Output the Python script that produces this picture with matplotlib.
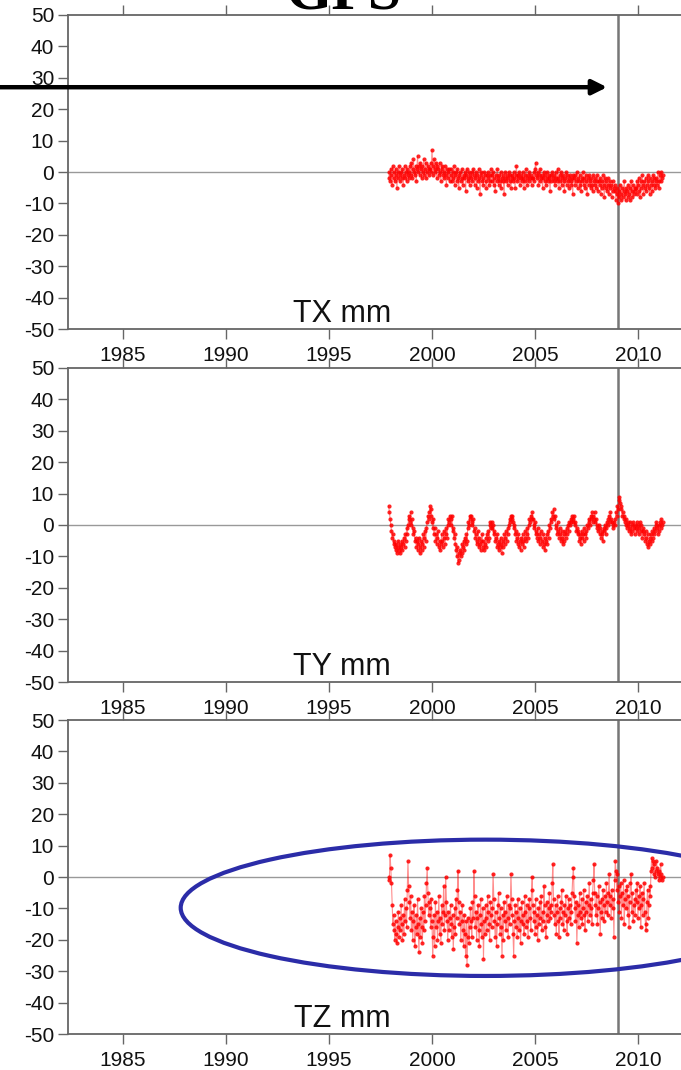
import numpy as np
import matplotlib
matplotlib.use("Agg")
import matplotlib.pyplot as plt
from matplotlib.patches import Ellipse

plt.rcParams['font.family'] = ['Liberation Sans', 'DejaVu Sans']
plt.rcParams['axes.unicode_minus'] = False

# GPS translation series (mm), 30 samples per year from 1997.9
tx = [-2, 0, -3, 1, -1, -4, 2, -2, 0, -3, 1, -1, -5, 0, -2, 2, -1, -3, 0, -2, 1, -4, -1, 2, -2, 0, -3, 1, -1, -2,
      0, 2, -1, 3, -2, 1, 4, 0, -1, 2, -3, 1, 5, 0, 2, -1, 3, 1, -2, 2, 0, 4, -1, 1, 3, -2, 0, 2, 1, -1,
      1, 3, 0, 7, 2, -1, 4, 1, 0, 3, -2, 2, 1, -1, 3, 0, -3, 1, 2, -1, 0, -2, 2, -1, -4, 1, 0, -2, 1, -3,
      -1, 1, -3, 0, -2, 2, -4, -1, 0, -3, 1, -2, -5, -1, 0, -3, -2, 1, -4, -1, -2, 0, -6, -1, 1, -3, -2, 0, -4, -1,
      -2, 0, -3, 1, -1, -4, -2, 0, -5, -1, -3, 1, -2, -7, -1, 0, -3, -2, -4, 0, -1, -3, -5, -1, 0, -2, -4, -1, -3, 1,
      -3, -1, 0, -4, -2, -6, -1, -3, 1, -2, -4, -1, -3, 0, -5, -2, -1, -3, -7, -2, 0, -3, -1, -4, -2, 0, -3, -1, -5, -2,
      -1, -3, 0, -2, -5, -1, 2, -3, -1, -2, 0, -4, -2, -1, -3, 0, -2, -5, -1, -3, 1, -2, -4, -1, -3, 0, -2, -1, -4, -2,
      -2, 0, -3, 1, 3, -1, -2, 0, -4, -1, -3, 1, -2, -1, -5, -2, 0, -3, -1, -4, -2, 0, -3, -1, -2, -6, -1, -3, 0, -2,
      -3, -1, -4, 0, -2, -3, 1, -2, -5, -1, -3, 0, -4, -2, -1, -3, -6, -2, 0, -4, -1, -3, -2, -5, -1, -3, -4, -2, -7, -1,
      -2, -4, -1, -3, 0, -5, -2, -3, -1, -4, -6, -2, -3, 0, -4, -2, -5, -1, -3, -7, -2, -4, -1, -3, -5, -2, -4, -6, -1, -3,
      -4, -2, -5, -3, -1, -6, -3, -4, -2, -7, -3, -5, -1, -4, -8, -2, -5, -3, -6, -4, -2, -7, -3, -5, -4, -8, -3, -6, -5, -4,
      -6, -9, -5, -7, -10, -6, -8, -4, -7, -9, -5, -8, -6, -3, -7, -9, -5, -6, -8, -4, -7, -5, -9, -3, -6, -8, -4, -7, -5, -6,
      -5, -3, -7, -4, -2, -6, -8, -3, -5, -1, -4, -7, -3, -5, -2, -6, -4, -3, -1, -5, -7, -2, -4, -3, -6, -1, -4, -2, -5, -3,
      -2, -4, 0, -3, -5, -1, -3, 0, -2, -1]

ty = [6, 4, 2, 0, -2, -4, -3, -6, -5, -7, -8, -6, -9, -7, -5, -8, -6, -9, -7, -5, -8, -6, -4, -7, -3, -5, -1, -3, 0, 2,
      3, 1, 4, 0, 2, -1, -3, -2, -5, -4, -7, -5, -8, -6, -4, -7, -9, -5, -8, -6, -3, -7, -4, -2, -5, -1, 1, 3, 2, 4,
      6, 3, 5, 1, -1, 2, -3, -1, -5, -3, -6, -4, -2, -7, -5, -8, -6, -3, -5, -7, -4, -2, -6, -3, -1, -4, 0, 2, 1, 3,
      2, 0, 3, -2, -1, -4, -3, -6, -8, -10, -7, -12, -9, -11, -8, -10, -6, -9, -7, -5, -8, -4, -6, -3, -5, -1, 1, 0, 3, 2,
      3, 1, 0, 2, -2, -1, -4, -3, -6, -5, -2, -7, -4, -6, -8, -5, -3, -7, -5, -8, -6, -4, -7, -3, -5, -2, -4, 0, 1, -1,
      1, -1, 0, -3, -2, -5, -4, -7, -3, -6, -8, -5, -7, -4, -6, -9, -5, -7, -3, -6, -4, -2, -5, -3, -1, 0, 2, 1, 3, 2,
      3, 1, -1, 0, -3, -2, -5, -4, -6, -3, -7, -5, -8, -4, -6, -3, -5, -7, -4, -2, -5, -3, -1, -4, 0, 2, 1, 3, 2, 4,
      2, 0, -1, 1, -3, -2, -4, -1, -5, -3, -6, -4, -2, -5, -7, -3, -6, -4, -8, -5, -3, -6, -2, -4, 0, -1, 2, 1, 4, 3,
      5, 2, 3, 0, -1, -3, 1, -2, -4, -1, -3, -5, -2, -4, -6, -3, -5, -2, -4, -1, -3, 0, -2, 1, 0, 2, 1, 3, 2, 1,
      3, 0, 1, -2, -1, -3, -2, -5, -3, -4, -6, -2, -4, -3, -5, -1, -3, -2, -4, 0, -1, 2, 1, 0, 3, 2, 4, 1, 3, 2,
      4, 1, 2, 0, -1, -2, 0, -3, -1, -4, -2, -3, -5, -1, -2, 0, -3, -1, 1, 0, 2, 3, 1, 4, 2, 1, 0, -1, 1, 0,
      2, 4, 3, 6, 5, 8, 9, 7, 6, 5, 3, 4, 2, 3, 1, 0, 2, -1, 1, 0, -2, 1, -1, -3, 0, -2, 1, -1, -3, 0,
      -1, 1, -2, 0, -1, -3, 1, -2, 0, -4, -2, -1, -3, -5, -2, -4, -6, -3, -7, -5, -6, -4, -3, -5, -2, -4, -1, -3, -2, 0,
      1, -1, -3, 0, -2, 1, -1, 2, 0, 1]

tz = [-1, 0, 7, 3, -2, -9, -15, -12, -17, -20, -14, -18, -21, -16, -11, -19, -13, -17, -9, -15, -20, -12, -18, -7, -14, -10, -16, -4, 5, -3,
      -8, -13, -6, -17, -11, -20, -14, -9, -22, -16, -12, -18, -7, -15, -24, -13, -19, -10, -16, -21, -11, -17, -6, -14, -9, -2, 3, -5, -12, -8,
      -10, -16, -7, -14, -25, -19, -12, -22, -8, -16, -11, -20, -14, -6, -18, -13, -21, -9, -15, -11, -3, -17, -12, 0, -8, -14, -20, -11, -17, -13,
      -9, -15, -19, -12, -23, -16, -10, -18, -7, -13, -4, 2, -8, -15, -11, -20, -14, -9, -17, -22, -12, -18, -25, -14, -28, -19, -13, -21, -16, -10,
      -14, -19, -8, -13, 2, -6, -16, -11, -20, -13, -9, -17, -22, -12, -7, -15, -19, -10, -26, -14, -18, -9, -13, -17, -6, -11, -15, -20, -8, -12,
      -16, -10, 1, -7, -14, -19, -11, -22, -15, -9, -5, -13, -18, -10, -16, -25, -12, -20, -8, -14, -11, -17, -6, -13, -19, -9, -15, -10, 1, -7,
      -12, -18, -25, -14, -9, -16, -11, -19, -7, -13, -17, -10, -21, -14, -8, -15, -12, -18, -6, -11, -16, -9, -14, -19, -10, -7, -13, -17, -4, 0,
      -9, -14, -11, -18, -7, -16, -12, -20, -10, -15, -8, -13, -6, -17, -11, -14, -3, -9, -16, -19, -12, -8, -14, -10, -5, -13, -9, -11, -2, 4,
      -7, -12, -15, -9, -18, -11, -6, -14, -19, -10, -13, -8, -4, -15, -11, -17, -9, -12, -6, -14, -18, -10, -7, -13, -9, -15, -11, -5, 0, 3,
      -6, -10, -14, -8, -21, -12, -9, -16, -5, -11, -13, -7, -15, -10, -4, -12, -17, -8, -11, -6, -14, -9, -2, -12, -7, -10, -15, -5, -1, 4,
      -5, -9, -12, -6, -15, -10, -3, -8, -18, -11, -7, -13, -4, -9, -14, -6, -11, -2, -8, -12, -5, 1, -9, -6, -13, -4, -10, -7, -19, -1,
      5, 2, -4, 1, -8, -3, -11, -6, -2, -13, -5, -9, -1, -15, -7, -4, -10, -3, -12, -6, -16, -8, -2, 1, -11, -5, -14, -9, -7, -12,
      -4, -8, -2, -13, -6, -10, -3, -16, -9, -5, -12, -7, -2, -11, -15, -17, -8, -4, -13, -9, -3, -6, 2, 6, 3, 5, 1, 4, 0, 2,
      5, 3, 1, -1, 2, 0, 4, 1, -1, 0]

t_start, t_end = 1997.9, 2011.2
event_year = 2009.05
year_ticks = [1985, 1990, 1995, 2000, 2005, 2010]
y_ticks = [50, 40, 30, 20, 10, 0, -10, -20, -30, -40, -50]
labels = ["TX", "TY", "TZ"]

fig = plt.figure(figsize=(6.81, 10.70), dpi=100)
bottoms = [0.6925, 0.3626, 0.0336]
axes = []
for series, name, b in zip([tx, ty, tz], labels, bottoms):
    ax = fig.add_axes([0.0999, b, 0.9001, 0.2935])
    t = np.linspace(t_start, t_end, len(series))
    ax.plot(t, series, color='red', lw=0.8, alpha=0.45, zorder=3)
    ax.plot(t, series, ls='none', marker='o', ms=3.0, mew=0, color='red', alpha=0.85, zorder=4)
    ax.axhline(0, color='#999999', lw=1, zorder=2)
    ax.axvline(event_year, color='#777777', lw=1.8, zorder=2)
    ax.set_xlim(1982.33, 2012.09)
    ax.set_ylim(-50, 50)
    ax.set_xticks(year_ticks)
    ax.set_yticks(y_ticks)
    ax.tick_params(axis='both', direction='out', length=7, width=1, color='#666666',
                   labelsize=15, labelcolor='#111111', top=True, pad=3)
    ax.tick_params(axis='x', pad=5)
    for side in ['left', 'bottom', 'top']:
        ax.spines[side].set_color('#666666')
        ax.spines[side].set_linewidth(1.3)
    ax.spines['right'].set_visible(False)
    ax.text(0.447, 0.0, name + " mm", transform=ax.transAxes, ha='center', va='bottom',
            fontsize=22, color='#111111')
    axes.append(ax)

# title, mostly cut off at the top of the image
fig.text(0.504, 0.9925, "GPS", ha='center', va='baseline', fontsize=43,
         fontweight='bold', family='Liberation Serif')

# arrow pointing at the event line
axes[0].annotate('', xy=(2008.5, 27), xytext=(0, 27),
                 xycoords='data', textcoords=('figure fraction', 'data'),
                 arrowprops=dict(arrowstyle='-|>', lw=3.2, color='black',
                                 mutation_scale=22, shrinkA=0, shrinkB=0),
                 annotation_clip=False, zorder=10)

# highlight ellipse on TZ
axes[2].add_patch(Ellipse((2002.6, -9.8), 29.6, 43.4, fill=False,
                          edgecolor='#2b2ca8', lw=3, clip_on=False, zorder=6))

fig.savefig("out.png", dpi=100)
